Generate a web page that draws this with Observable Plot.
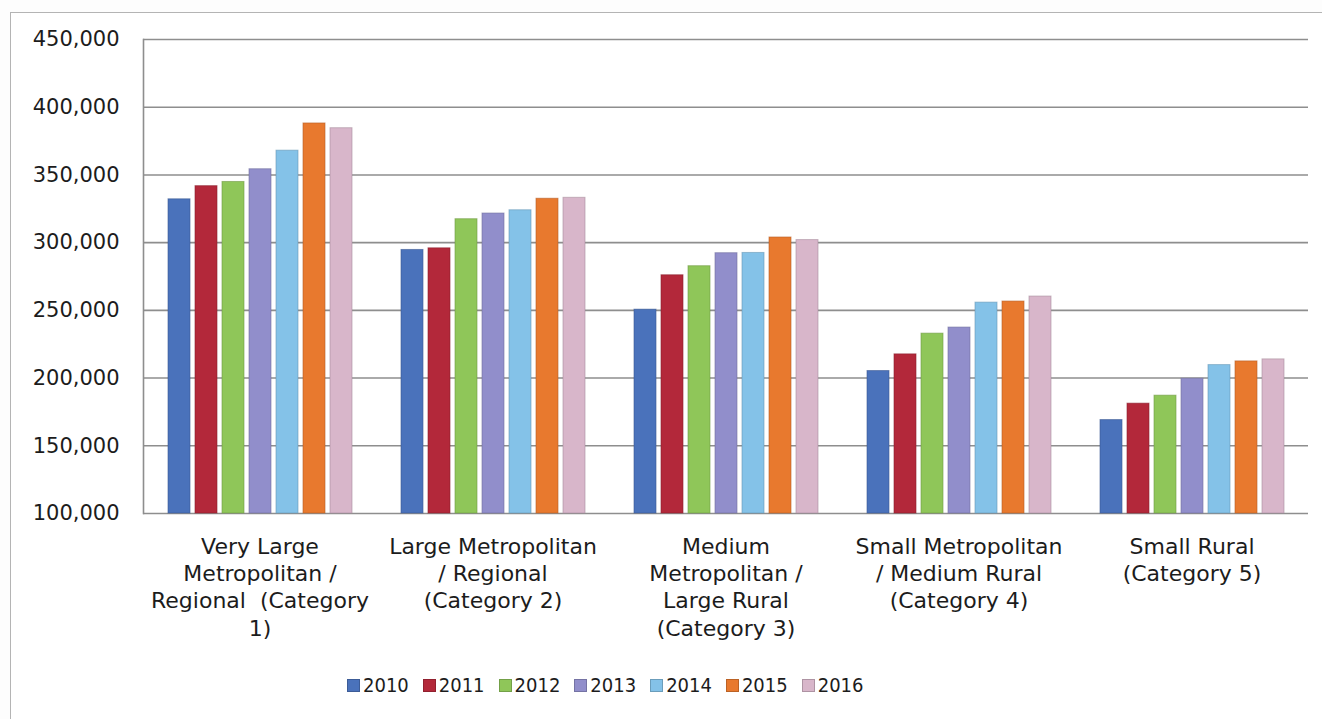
<!DOCTYPE html>
<html>
<head>
<meta charset="utf-8">
<script src="https://cdn.jsdelivr.net/npm/d3@7"></script>
<script src="https://cdn.jsdelivr.net/npm/@observablehq/plot@0.6"></script>
<style>
  html, body { margin: 0; padding: 0; background: #ffffff; }
  #wrap { position: relative; width: 1322px; height: 719px; overflow: hidden; background: #fdfdfd; }
  #border { position: absolute; left: 10px; top: 12px; width: 1330px; height: 720px;
            border-left: 1.5px solid #b4b4b4; border-top: 1.5px solid #b4b4b4; background: #ffffff; }
  #chart { position: absolute; left: 0; top: 0; }
  #legend { position: absolute; left: 347px; top: 673px; display: flex; align-items: center;
            font-family: "DejaVu Sans Condensed", sans-serif;
            font-size: 20px; color: #1c1c1c; }
  .item { display: flex; align-items: center; margin-right: 14px; }
  .sw { width: 13px; height: 13px; margin-right: 3px; box-sizing: border-box; }
</style>
</head>
<body>
<div id="wrap">
  <div id="border"></div>
  <div id="chart"></div>
  <div id="legend"></div>
</div>
<script>
// Category labels (line breaks as printed under each group)
const categories = [
  "Very Large\nMetropolitan /\nRegional\u00a0 (Category\n1)",
  "Large Metropolitan\n/ Regional\n(Category 2)",
  "Medium\nMetropolitan /\nLarge Rural\n(Category 3)",
  "Small Metropolitan\n/ Medium Rural\n(Category 4)",
  "Small Rural\n(Category 5)"
];

// Series: one per year, one value per category
const years = ["2010", "2011", "2012", "2013", "2014", "2015", "2016"];
const s2010 = [332000, 294600, 250500, 205200, 169000];
const s2011 = [341700, 295800, 275900, 217500, 181100];
const s2012 = [344800, 317300, 282600, 232800, 187000];
const s2013 = [354200, 321500, 292200, 237300, 199500];
const s2014 = [367900, 323900, 292400, 255700, 209600];
const s2015 = [388000, 332400, 303800, 256500, 212300];
const s2016 = [384500, 333100, 301900, 260200, 213800];
const yearColors = ["#4a72bb", "#b3283a", "#8fc659", "#918ecb", "#84c2e8", "#e8792e", "#d8b6ca"];

// Value axis
const yTicks = [100000, 150000, 200000, 250000, 300000, 350000, 400000, 450000];

const series = [s2010, s2011, s2012, s2013, s2014, s2015, s2016];
const rows = [];
categories.forEach((c, ci) => {
  years.forEach((yr, yi) => rows.push({category: c, year: yr, value: series[yi][ci]}));
});
const colorOf = new Map(years.map((y, i) => [y, yearColors[i]]));

const chart = Plot.plot({
  width: 1322,
  height: 660,
  marginLeft: 142,
  marginRight: 14,
  marginTop: 39,
  marginBottom: 147,
  style: {background: "transparent", fontFamily: "'DejaVu Sans', sans-serif", color: "#1c1c1c"},
  fx: {domain: categories, padding: 0, axis: null},
  x: {domain: years, paddingInner: 0.2, paddingOuter: 0.9, axis: null},
  y: {domain: [yTicks[0], yTicks[yTicks.length - 1]], axis: null},
  color: {domain: years, range: yearColors},
  marks: [
    Plot.ruleY(yTicks, {stroke: "#8e8e8e", strokeWidth: 1.6}),
    Plot.frame({anchor: "left", facet: "super", stroke: "#8e8e8e", strokeWidth: 1.6}),
    Plot.axisY({
      ticks: yTicks, tickFormat: d3.format(","), tickSize: 0, tickPadding: 24,
      fontSize: 21, fill: "#1c1c1c", label: null
    }),
    Plot.barY(rows, {
      fx: "category", x: "year", y1: yTicks[0], y2: "value", fill: "year",
      stroke: d => d3.color(colorOf.get(d.year)).darker(0.7).formatHex(),
      strokeWidth: 1, strokeOpacity: 0.6
    }),
    Plot.text(categories, {
      fx: d => d, text: d => d, frameAnchor: "bottom", lineAnchor: "top",
      dy: 21, fontSize: 22, lineHeight: 1.24, fill: "#1c1c1c"
    })
  ]
});
document.getElementById("chart").appendChild(chart);

// Legend
const legend = document.getElementById("legend");
years.forEach((y, i) => {
  const item = document.createElement("div");
  item.className = "item";
  const sw = document.createElement("div");
  sw.className = "sw";
  sw.style.background = yearColors[i];
  sw.style.border = "1px solid " + d3.color(yearColors[i]).darker(0.6).formatHex();
  const t = document.createElement("span");
  t.textContent = y;
  item.appendChild(sw);
  item.appendChild(t);
  legend.appendChild(item);
});
</script>
</body>
</html>
